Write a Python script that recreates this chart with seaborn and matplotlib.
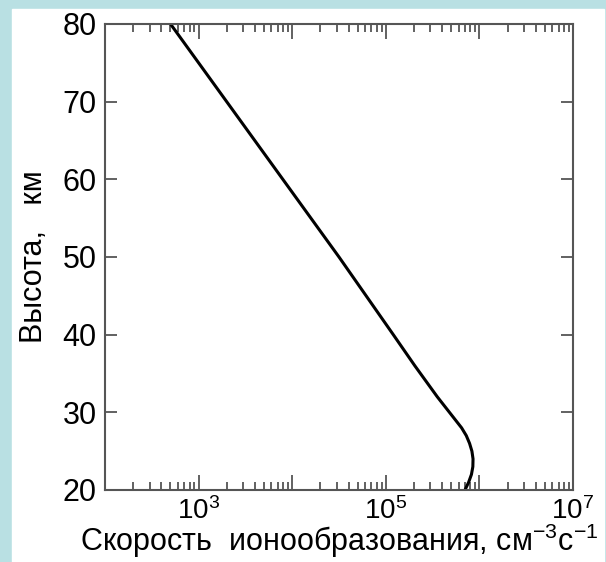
import numpy as np
import pandas as pd
import matplotlib
matplotlib.use('Agg')
import matplotlib.pyplot as plt
import matplotlib.ticker as mticker
import seaborn as sns

# altitude (km) and ion production rate (cm^-3 s^-1)
altitude = [20, 21, 22, 23, 24, 25, 26, 27, 28, 29, 30, 31, 32, 34, 36, 38, 40,
            45, 50, 55, 60, 65, 70, 75, 80]
log_rate = [5.846, 5.885, 5.915, 5.93, 5.932, 5.92, 5.895, 5.86, 5.81, 5.745, 5.68, 5.615,
            5.55, 5.43, 5.31, 5.195, 5.08, 4.79, 4.50, 4.20, 3.90, 3.60, 3.30, 3.00, 2.70]
rate = [10 ** v for v in log_rate]

xlabel = 'Скорость  ионообразования, см$^{-3}$с$^{-1}$'
ylabel = 'Высота,   км'

df = pd.DataFrame({'alt': altitude, 'rate': rate})

sns.set_style('ticks')
plt.rcParams['font.family'] = ['Liberation Sans', 'DejaVu Sans']
plt.rcParams['mathtext.fontset'] = 'custom'
plt.rcParams['mathtext.rm'] = 'Liberation Sans'
plt.rcParams['mathtext.it'] = 'Liberation Sans'
plt.rcParams['text.color'] = 'black'
plt.rcParams['axes.labelcolor'] = 'black'
plt.rcParams['xtick.labelcolor'] = 'black'
plt.rcParams['ytick.labelcolor'] = 'black'

fig = plt.figure(figsize=(6.06, 5.62), dpi=100)
fig.patch.set_facecolor('#b9e0e3')
bg = plt.Rectangle((12 / 606, 0), 592 / 606, 1 - 9 / 562,
                   transform=fig.transFigure, color='white', zorder=-5)
fig.add_artist(bg)

ax = fig.add_axes([105 / 606, 1 - 490 / 562, 468 / 606, 466 / 562])
ax.set_facecolor('white')

sns.lineplot(data=df, x='rate', y='alt', orient='y', color='black', lw=2.2, ax=ax)

ax.set_xscale('log')
ax.set_xlim(1e2, 1e7)
ax.set_ylim(20, 80)
ax.set_yticks(np.arange(20, 81, 10))
ax.xaxis.set_major_locator(mticker.LogLocator(base=10, numticks=10))
ax.xaxis.set_minor_locator(mticker.LogLocator(base=10, subs=np.arange(2, 10), numticks=20))
ax.xaxis.set_minor_formatter(mticker.NullFormatter())
ax.xaxis.set_major_formatter(mticker.FuncFormatter(
    lambda v, p: f'$10^{{{int(round(np.log10(v)))}}}$' if int(round(np.log10(v))) % 2 == 1 else ''))

spine_c = '#555555'
for s in ax.spines.values():
    s.set_color(spine_c)
    s.set_linewidth(1.5)

ax.tick_params(axis='x', which='major', direction='in', length=11, width=1.3, color=spine_c,
               top=True, bottom=True, labelsize=20, pad=5)
ax.tick_params(axis='x', which='minor', direction='in', length=5.5, width=1.3, color=spine_c,
               top=True, bottom=True)
ax.tick_params(axis='y', which='major', direction='in', length=8.5, width=1.3, color=spine_c,
               left=True, right=True, labelsize=22, pad=6)

ax.set_xlabel(xlabel, fontsize=22, labelpad=-2)
ax.set_ylabel(ylabel, fontsize=22, labelpad=10)

fig.savefig('out.png', dpi=100, facecolor=fig.get_facecolor())
